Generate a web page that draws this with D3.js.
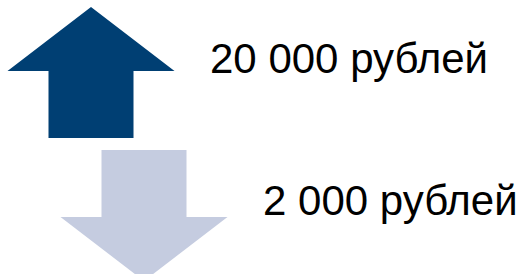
<!DOCTYPE html>
<html>
<head>
<meta charset="utf-8">
<script src="https://cdn.jsdelivr.net/npm/d3@7"></script>
<style>
  html, body { margin: 0; padding: 0; background: #fff; }
  svg { display: block; }
  text { font-family: "Liberation Sans", Arial, sans-serif; fill: #000; }
</style>
</head>
<body>
<div id="chart"></div>
<script>
// data
const labels = ["20 000 рублей", "2 000 рублей"];
const amounts = [20000, 2000];
const directions = ["up", "down"];
const colors = ["#003f73", "#c5cce0"];

const rows = labels.map((d, i) => ({
  label: d,
  amount: amounts[i],
  dir: directions[i],
  color: colors[i],
}));

//size
const width = 521;
const height = 274;

//scale
const yScale = d3.scaleBand().domain(labels).range([7, 281]).paddingInner(0.084);
const xScale = d3.scalePoint().domain(labels).range([91, 144]);

const svg = d3
  .select("#chart")
  .append("svg")
  .attr("width", width)
  .attr("height", height);

// arrow shape, placed by the scales
function arrowPath(d) {
  const hw = 83.5, sw = 42.5;
  const h = yScale.bandwidth();
  const head = 64;
  const cx = xScale(d.label);
  const top = yScale(d.label);
  let pts;
  if (d.dir === "up") {
    pts = [
      [cx, top],
      [cx + hw, top + head],
      [cx + sw, top + head],
      [cx + sw, top + h],
      [cx - sw, top + h],
      [cx - sw, top + head],
      [cx - hw, top + head],
    ];
  } else {
    const base = top + h - head;
    pts = [
      [cx - sw, top],
      [cx + sw, top],
      [cx + sw, base],
      [cx + hw, base],
      [cx, top + h],
      [cx - hw, base],
      [cx - sw, base],
    ];
  }
  return d3.line()(pts) + "Z";
}

svg
  .selectAll("path.arrow")
  .data(rows)
  .join("path")
  .attr("class", "arrow")
  .attr("fill", (d) => d.color)
  .attr("d", arrowPath);

//labels
svg
  .selectAll("text.label")
  .data(rows)
  .join("text")
  .attr("class", "label")
  .attr("x", (d) => xScale(d.label) + 119)
  .attr("y", (d) => yScale(d.label) + (d.dir === "up" ? 66 : 65))
  .attr("font-size", 42)
  .text((d) => d.label);
</script>
</body>
</html>
